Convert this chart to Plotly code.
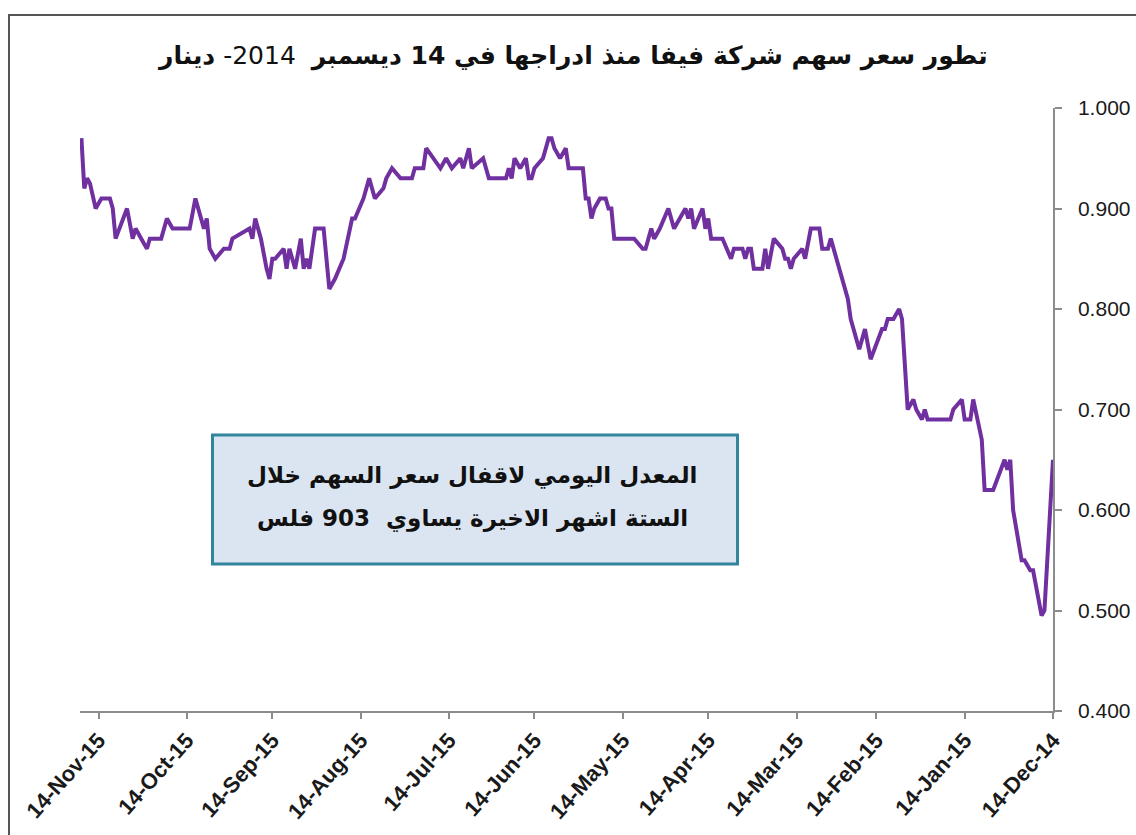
import plotly.graph_objects as go

# ---- data (chronological) ----
dates = [
    "2014-12-14", "2014-12-17", "2014-12-18", "2014-12-21", "2014-12-22", "2014-12-24", "2014-12-25",
    "2014-12-28", "2014-12-29", "2014-12-30", "2014-12-31", "2015-01-04", "2015-01-07", "2015-01-08",
    "2015-01-11", "2015-01-12", "2015-01-14", "2015-01-15", "2015-01-18", "2015-01-19", "2015-01-27",
    "2015-01-28", "2015-01-29", "2015-01-31", "2015-02-01", "2015-02-03", "2015-02-05", "2015-02-06",
    "2015-02-08", "2015-02-10", "2015-02-11", "2015-02-12", "2015-02-16", "2015-02-18", "2015-02-20",
    "2015-02-23", "2015-02-24", "2015-02-27", "2015-03-02", "2015-03-03", "2015-03-05", "2015-03-06",
    "2015-03-09", "2015-03-11", "2015-03-12", "2015-03-15", "2015-03-16", "2015-03-17", "2015-03-18",
    "2015-03-19", "2015-03-22", "2015-03-24", "2015-03-25", "2015-03-26", "2015-03-29", "2015-03-30",
    "2015-03-31", "2015-04-01", "2015-04-02", "2015-04-05", "2015-04-06", "2015-04-09", "2015-04-13",
    "2015-04-14", "2015-04-15", "2015-04-16", "2015-04-19", "2015-04-20", "2015-04-21", "2015-04-22",
    "2015-04-24", "2015-04-26", "2015-04-28", "2015-05-01", "2015-05-03", "2015-05-04", "2015-05-06",
    "2015-05-07", "2015-05-10", "2015-05-17", "2015-05-18", "2015-05-19", "2015-05-20", "2015-05-22",
    "2015-05-24", "2015-05-25", "2015-05-26", "2015-05-27", "2015-05-28", "2015-06-02", "2015-06-03",
    "2015-06-05", "2015-06-07", "2015-06-08", "2015-06-09", "2015-06-11", "2015-06-14", "2015-06-15",
    "2015-06-16", "2015-06-17", "2015-06-19", "2015-06-21", "2015-06-22", "2015-06-23", "2015-06-24",
    "2015-06-30", "2015-07-02", "2015-07-06", "2015-07-07", "2015-07-09", "2015-07-10", "2015-07-13",
    "2015-07-15", "2015-07-17", "2015-07-22", "2015-07-23", "2015-07-26", "2015-07-27", "2015-07-31",
    "2015-08-03", "2015-08-05", "2015-08-06", "2015-08-09", "2015-08-11", "2015-08-13", "2015-08-16",
    "2015-08-17", "2015-08-19", "2015-08-20", "2015-08-23", "2015-08-25", "2015-08-27", "2015-08-30",
    "2015-09-01", "2015-09-02", "2015-09-03", "2015-09-04", "2015-09-06", "2015-09-08", "2015-09-09",
    "2015-09-10", "2015-09-13", "2015-09-14", "2015-09-15", "2015-09-16", "2015-09-18", "2015-09-20",
    "2015-09-21", "2015-09-22", "2015-09-28", "2015-09-29", "2015-10-01", "2015-10-04", "2015-10-06",
    "2015-10-07", "2015-10-08", "2015-10-11", "2015-10-13", "2015-10-19", "2015-10-21", "2015-10-23",
    "2015-10-27", "2015-10-28", "2015-10-30", "2015-11-01", "2015-11-02", "2015-11-04", "2015-11-08",
    "2015-11-09", "2015-11-10", "2015-11-13", "2015-11-15", "2015-11-17", "2015-11-18", "2015-11-19",
    "2015-11-20",
]
prices = [
    0.65, 0.50, 0.495, 0.54, 0.54, 0.55, 0.55,
    0.60, 0.65, 0.64, 0.65, 0.62, 0.62, 0.67,
    0.71, 0.69, 0.69, 0.71, 0.70, 0.69, 0.69,
    0.70, 0.69, 0.70, 0.71, 0.70, 0.79, 0.80,
    0.79, 0.79, 0.78, 0.78, 0.75, 0.78, 0.76,
    0.79, 0.81, 0.84, 0.87, 0.86, 0.86, 0.88,
    0.88, 0.85, 0.86, 0.85, 0.84, 0.85, 0.85,
    0.86, 0.87, 0.84, 0.86, 0.84, 0.84, 0.86,
    0.86, 0.85, 0.86, 0.86, 0.85, 0.87, 0.87,
    0.89, 0.88, 0.90, 0.88, 0.90, 0.89, 0.90,
    0.89, 0.88, 0.90, 0.88, 0.87, 0.88, 0.86,
    0.86, 0.87, 0.87, 0.90, 0.90, 0.91, 0.91,
    0.90, 0.89, 0.91, 0.91, 0.94, 0.94, 0.96,
    0.95, 0.96, 0.97, 0.97, 0.95, 0.94, 0.93,
    0.93, 0.95, 0.94, 0.95, 0.93, 0.94, 0.93,
    0.93, 0.95, 0.94, 0.96, 0.94, 0.95, 0.94,
    0.95, 0.94, 0.96, 0.94, 0.94, 0.93, 0.93,
    0.94, 0.93, 0.92, 0.91, 0.93, 0.91, 0.89,
    0.89, 0.86, 0.85, 0.83, 0.82, 0.88, 0.88,
    0.84, 0.85, 0.84, 0.87, 0.84, 0.86, 0.84,
    0.86, 0.85, 0.85, 0.83, 0.84, 0.87, 0.89,
    0.87, 0.88, 0.87, 0.86, 0.86, 0.85, 0.86,
    0.89, 0.88, 0.91, 0.88, 0.88, 0.89, 0.87,
    0.87, 0.86, 0.87, 0.88, 0.87, 0.90, 0.87,
    0.90, 0.91, 0.91, 0.90, 0.925, 0.93, 0.92,
    0.97,
]
tick_dates = ["2014-12-14", "2015-01-14", "2015-02-14", "2015-03-14", "2015-04-14", "2015-05-14",
              "2015-06-14", "2015-07-14", "2015-08-14", "2015-09-14", "2015-10-14", "2015-11-14"]
x_range = ["2015-11-20 12:00", "2014-12-14"]  # reversed (newest on the left)
y_range = [0.4, 1.0]

title_text = "<b>تطور سعر سهم شركة فيفا منذ ادراجها في 14 ديسمبر</b>  2014- <b>دينار</b>"
note_line1 = "المعدل اليومي لاقفال سعر السهم خلال"
note_line2 = "الستة اشهر الاخيرة يساوي  903 فلس"

# ---- layout geometry ----
W, H = 1136, 835
L, R, T, B = 80, 1053, 108, 711


def px(xp):
    return (xp - L) / (R - L)


def py(yp):
    return (B - yp) / (B - T)


fig = go.Figure()
fig.add_trace(go.Scatter(
    x=dates, y=prices, mode="lines",
    line=dict(color="#7030a0", width=4),
    hoverinfo="skip", showlegend=False,
))

axis_col = "#8c8c8c"
fig.update_layout(
    width=W, height=H,
    margin=dict(l=L, r=W - R, t=T, b=H - B, pad=0),
    paper_bgcolor="white", plot_bgcolor="white",
    showlegend=False,
    xaxis=dict(
        type="date", range=x_range, automargin=False,
        tickmode="array", tickvals=tick_dates, tickformat="%d-%b-%y",
        tickangle=-48,
        tickfont=dict(family="Liberation Sans", size=22, color="#1a1a1a", weight="bold"),
        showline=True, linecolor=axis_col, linewidth=1.5,
        ticks="outside", ticklen=6, tickcolor=axis_col, tickwidth=1.5,
        showgrid=False, zeroline=False,
    ),
    yaxis=dict(
        range=y_range, side="right", dtick=0.1, tick0=0.4, tickformat=".3f", automargin=False,
        tickfont=dict(family="Liberation Sans", size=21, color="#1a1a1a"),
        showline=True, linecolor=axis_col, linewidth=1.5,
        ticks="outside", ticklen=7, tickcolor=axis_col, tickwidth=1.5,
        ticklabelstandoff=12,
        showgrid=False, zeroline=False,
    ),
)

# outer frame
fig.add_shape(type="rect", xref="paper", yref="paper",
              x0=px(9), x1=px(1145), y0=py(15), y1=py(845),
              line=dict(color="#555555", width=2), fillcolor="rgba(0,0,0,0)", layer="below")

# note box
fig.add_shape(type="rect", xref="paper", yref="paper",
              x0=px(212.5), x1=px(737.5), y0=py(435), y1=py(564),
              line=dict(color="#31859c", width=3), fillcolor="#dbe5f1", layer="above")

for txt, yc in ((note_line1, 475), (note_line2, 518)):
    fig.add_annotation(xref="paper", yref="paper", x=px(472), y=py(yc),
                       text=txt, showarrow=False,
                       font=dict(family="DejaVu Sans", size=23, color="#111111", weight="bold"),
                       align="center", xanchor="center", yanchor="middle")

fig.add_annotation(xref="paper", yref="paper", x=px(572), y=py(56),
                   text=title_text, showarrow=False,
                   font=dict(family="DejaVu Sans", size=25, color="#111111"),
                   xanchor="center", yanchor="middle")

fig.write_html("out.html", config={"displayModeBar": False},
               post_script="document.body.style.margin='0';")
